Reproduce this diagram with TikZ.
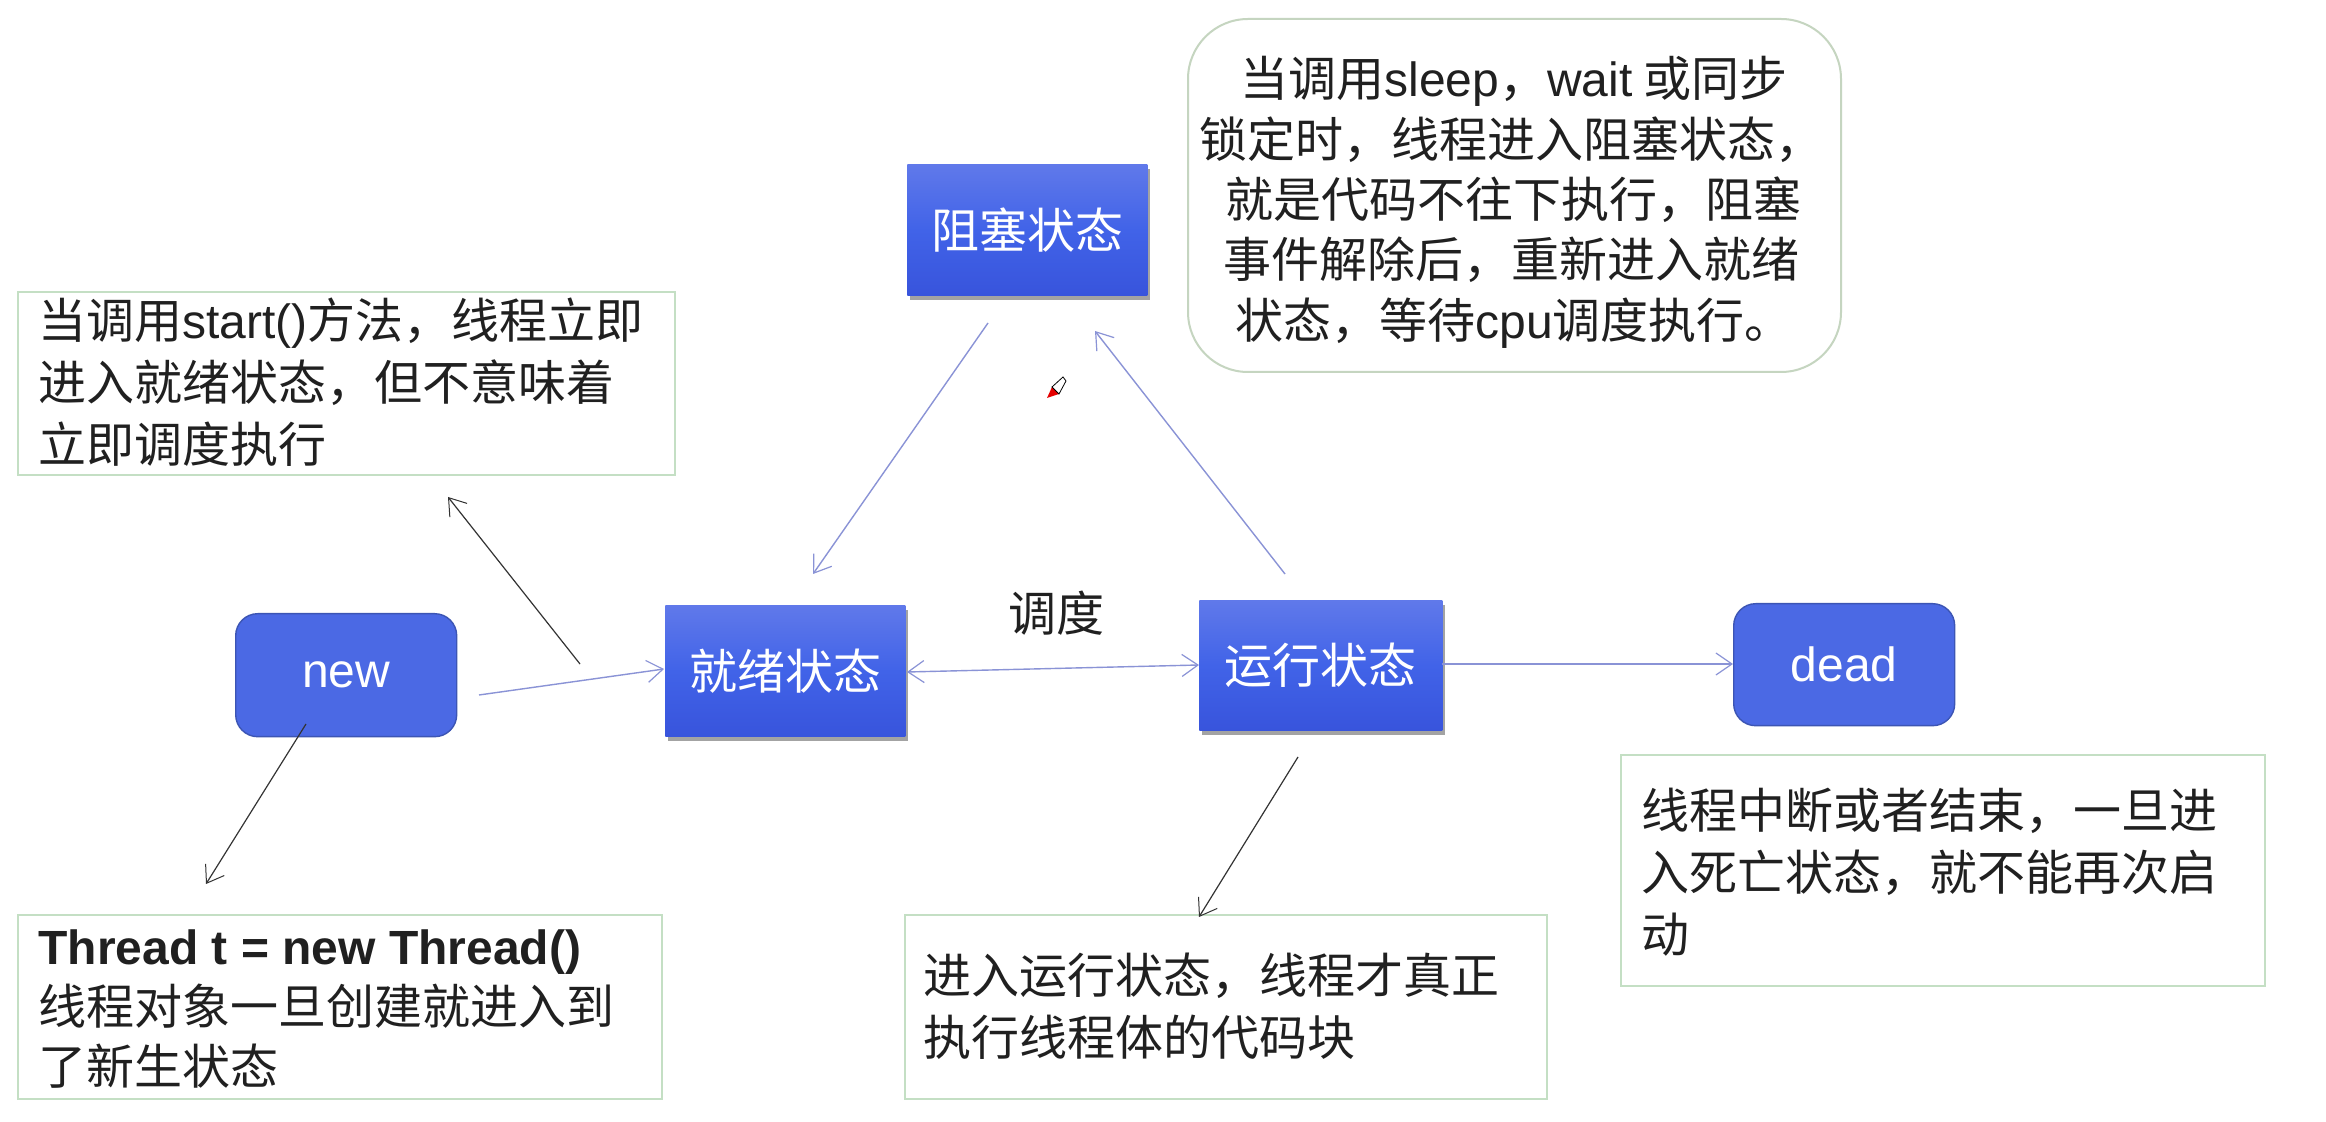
\documentclass[tikz,border=0pt]{standalone}
\usepackage{fontspec}
\setmainfont{Noto Sans CJK SC}
\newfontfamily\lat{Liberation Sans}
\usetikzlibrary{shadows,arrows.meta}
\definecolor{stTop}{HTML}{6079EA}
\definecolor{stMid}{HTML}{4163E8}
\definecolor{stBot}{HTML}{3854DC}
\definecolor{rrFill}{HTML}{4B69E4}
\definecolor{rrEdge}{HTML}{3C55B4}
\definecolor{flow}{HTML}{8A93D6}
\definecolor{noteEdge}{HTML}{C4DFC4}
\definecolor{bubbleEdge}{HTML}{C5D5C0}
\definecolor{ink}{HTML}{202020}
\tikzset{
  x=0.5pt,y=-0.5pt,
  txt/.style={font=\fontsize{24}{31}\selectfont,text=ink,inner sep=0pt,align=left},
  statebox/.style={anchor=north west,inner sep=0pt,top color=stTop,bottom color=stBot,middle color=stMid,
    drop shadow={shadow xshift=1.5pt,shadow yshift=-2.5pt,fill=black!60,opacity=.6},
    text=white,font=\fontsize{24}{28}\selectfont},
  roundbox/.style={anchor=north west,inner sep=0pt,rounded corners=11pt,fill=rrFill,draw=rrEdge,line width=.7pt,
    text=white,font=\lat\fontsize{24}{28}\selectfont},
  notebox/.style={draw=noteEdge,line width=.8pt,fill=white},
  flowline/.style={draw=flow,line width=.7pt,-{Straight Barb[length=8pt,width=11pt,line width=.6pt]}},
  flowboth/.style={draw=flow,line width=.7pt,{Straight Barb[length=8pt,width=11pt,line width=.6pt]}-{Straight Barb[length=8pt,width=11pt,line width=.6pt]}},
  blackline/.style={draw=black!80,line width=.6pt,-{Straight Barb[length=8pt,width=11pt,line width=.5pt]}},
}
\begin{document}
\begin{tikzpicture}
\useasboundingbox (0,0) rectangle (2326,1122);
\fill[white] (0,0) rectangle (2326,1122);

% note frames
\draw[notebox] (18,292) rectangle (675,475);
\draw[notebox] (18,915) rectangle (662,1099);
\draw[notebox] (905,915) rectangle (1547,1099);
\draw[notebox] (1621,755) rectangle (2265,986);
\draw[draw=bubbleEdge,line width=1pt,fill=white,rounded corners=30pt] (1188,19) rectangle (1841,372);

% state nodes
\node[statebox,minimum width=120pt,minimum height=65.5pt] (blocked) at (907,164) {阻塞状态};
\node[statebox,minimum width=120pt,minimum height=65.5pt] (ready) at (665,605) {就绪状态};
\node[statebox,minimum width=121.5pt,minimum height=65pt] (running) at (1199,600) {运行状态};
\node[roundbox,minimum width=110.5pt,minimum height=61.5pt] (new) at (235,613) {new};
\node[roundbox,minimum width=110.5pt,minimum height=61pt] (dead) at (1733,603) {dead};

% texts
\node[txt,anchor=north west] (t1) at (38,297) {当调用{\lat start()}方法，线程立即\\进入就绪状态，但不意味着\\立即调度执行};
\node[txt,font=\fontsize{24}{30}\selectfont,anchor=north west] (t2) at (38,929) {{\lat\bfseries Thread t = new Thread()}\\线程对象一旦创建就进入到\\了新生状态};
\node[txt,anchor=north west] (t3) at (923,953) {进入运行状态，线程才真正\\执行线程体的代码块};
\node[txt,anchor=north west] (t4) at (1641,788) {线程中断或者结束，一旦进\\入死亡状态，就不能再次启\\动};
\node[txt,font=\fontsize{24}{30.2}\selectfont,anchor=north west] (t5) at (1199,56) {\hspace*{20.5pt}当调用{\lat sleep}，{\lat wait} 或同步\\锁定时，线程进入阻塞状态，\\\hspace*{13pt}就是代码不往下执行，阻塞\\\hspace*{12pt}事件解除后，重新进入就绪\\\hspace*{18pt}状态，等待{\lat cpu}调度执行。};
\node[font=\fontsize{24}{28}\selectfont,text=ink,inner sep=0pt] (sched) at (1056,613) {调度};

% free ends of connectors
\coordinate (a1) at (988,323);
\coordinate (a2) at (813,574);
\coordinate (b1) at (1285,574);
\coordinate (b2) at (1095,331);
\coordinate (c1) at (479,695);
\coordinate (c2) at (664,669);
\coordinate (d1) at (907,672);
\coordinate (d2) at (1199,665);
\coordinate (e1) at (1442,664);
\coordinate (e2) at (1733,664);
\coordinate (f1) at (580,664);
\coordinate (f2) at (448,497);
\coordinate (g1) at (306,724);
\coordinate (g2) at (206,884);
\coordinate (h1) at (1298,757);
\coordinate (h2) at (1199,917);

\draw[flowline] (a1) -- (a2);
\draw[flowline] (b1) -- (b2);
\draw[flowline] (c1) -- (c2);
\draw[flowboth] (d1) -- (d2);
\draw[flowline] (e1) -- (e2);
\draw[blackline] (f1) -- (f2);
\draw[blackline] (g1) -- (g2);
\draw[blackline] (h1) -- (h2);

% pen cursor
\fill[red!90!black] (1047,398) -- (1052,387) -- (1059,394) -- cycle;
\draw[black,line width=.4pt,fill=white] (1052,387) -- (1063,377) -- (1066,381) -- (1059,394) -- cycle;
\end{tikzpicture}
\end{document}
